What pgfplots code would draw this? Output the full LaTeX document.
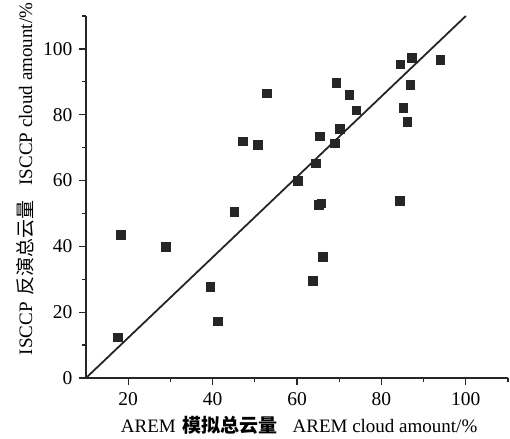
\documentclass[border=0pt]{standalone}
\usepackage{fontspec}
\setmainfont{Liberation Serif}
\newfontfamily\cjk{Noto Sans CJK SC}
\usepackage{pgfplots}
\pgfplotsset{compat=1.18}
\begin{document}
\fontsize{19bp}{22bp}\selectfont
\begin{tikzpicture}
\begin{axis}[
  name=ax,
  scale only axis,
  width=422bp, height=362bp,
  xmin=10, xmax=110, ymin=0, ymax=110,
  axis x line*=bottom, axis y line*=left,
  axis line style={line width=1.5bp, black!85},
  xtick={20,40,60,80,100},
  ytick={0,20,40,60,80,100},
  minor xtick={30,50,70,90,110},
  minor ytick={10,30,50,70,90,110},
  tick align=outside,
  major tick length=7bp, minor tick length=4bp,
  tick style={line width=1.3bp, black!85},
  /pgf/number format/assume math mode=true,
  ticklabel style={font=\fontsize{19.5bp}{22bp}\selectfont},
  xticklabel style={yshift=-1bp},
  xlabel={AREM\hspace{0.35em}{\cjk\bfseries 模拟总云量}\hspace{0.8em}AREM cloud amount/\%},
  ylabel={ISCCP\hspace{0.35em}{\cjk 反演总云量}\hspace{0.8em}ISCCP cloud amount/\%},
  xlabel style={at={(axis description cs:0.505,-0.13)}, anchor=center, font=\fontsize{19bp}{22bp}\selectfont},
  ylabel style={at={(axis description cs:-0.145,0.55)}, anchor=center, font=\fontsize{19bp}{22bp}\selectfont},
  clip=false,
]
\addplot[no marks, line width=1.8bp, black!85] coordinates {(10,0) (100,110)};
\addplot[only marks, mark=square*, mark size=4.3bp, black!85] coordinates {
(17.5,12.4) (18.2,43.6) (28.9,39.9) (39.4,27.8) (41.2,17.2) (45.1,50.5)
(47.2,72.0) (50.7,70.9) (52.8,86.5) (60.2,60.0) (63.7,29.5) (64.4,65.3)
(65.1,52.6) (65.7,53.1) (65.4,73.5) (66.1,36.9) (69.0,71.3) (69.3,89.8)
(70.1,75.8) (72.4,86.1) (74.0,81.4) (84.4,53.8) (84.5,95.4) (85.2,82.1)
(86.1,77.8) (86.8,89.1) (87.2,97.3) (93.9,96.8)
};
\end{axis}
\pgfresetboundingbox
\path ([xshift=-86bp,yshift=-61bp]ax.south west) rectangle ([xshift=2bp,yshift=16bp]ax.north east);
\end{tikzpicture}
\end{document}
